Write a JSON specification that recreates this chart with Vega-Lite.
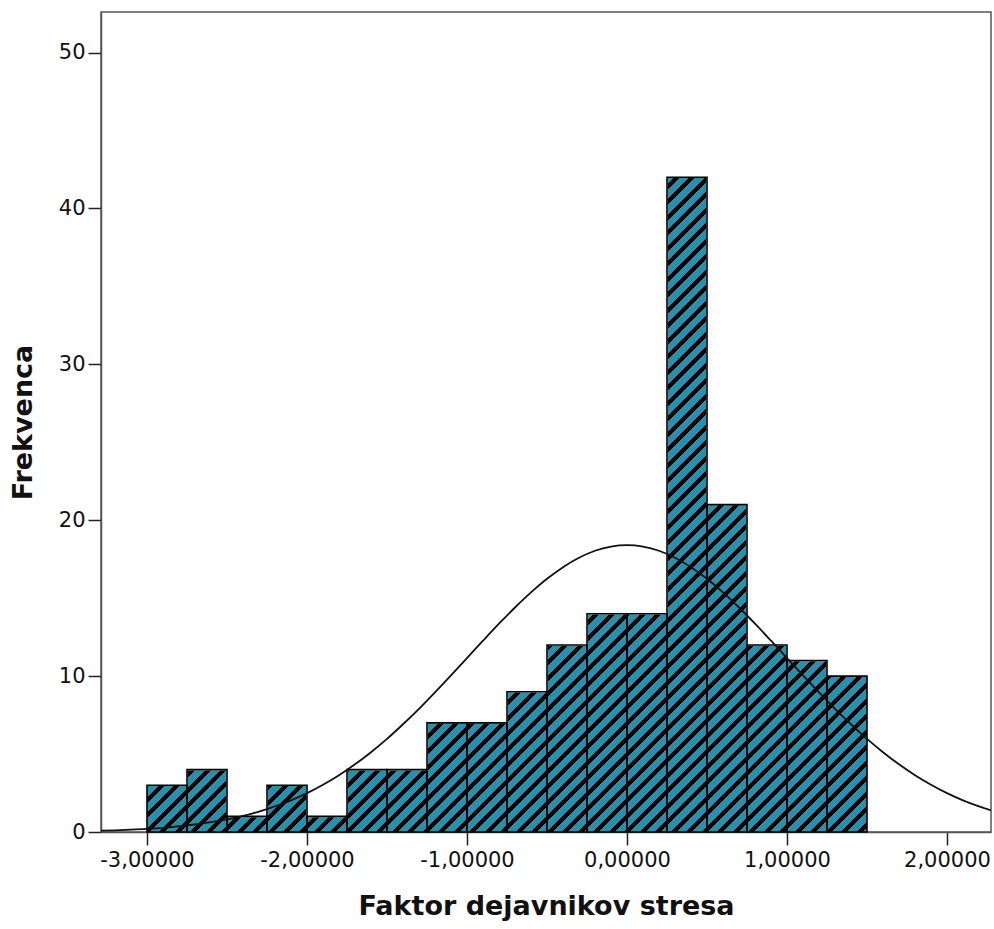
{
  "$schema": "https://vega.github.io/schema/vega-lite/v6.json",
  "width": 890,
  "height": 820,
  "autosize": "none",
  "padding": {"left": 101, "top": 12, "right": 3, "bottom": 97},
  "background": "white",
  "config": {
    "view": {"stroke": "#555555", "strokeWidth": 1.5},
    "axis": {
      "grid": false,
      "domainColor": "#555555",
      "domainWidth": 1.5,
      "tickColor": "#222222",
      "tickWidth": 1.5,
      "tickSize": 13,
      "labelFont": "DejaVu Sans",
      "labelFontSize": 21,
      "labelColor": "#111111",
      "titleFont": "DejaVu Sans",
      "titleFontSize": 27,
      "titleFontWeight": "bold",
      "titleColor": "#111111"
    }
  },
  "datasets": {
    "bars": [
      {"bin_start": -3.0, "bin_end": -2.75, "count": 3},
      {"bin_start": -2.75, "bin_end": -2.5, "count": 4},
      {"bin_start": -2.5, "bin_end": -2.25, "count": 1},
      {"bin_start": -2.25, "bin_end": -2.0, "count": 3},
      {"bin_start": -2.0, "bin_end": -1.75, "count": 1},
      {"bin_start": -1.75, "bin_end": -1.5, "count": 4},
      {"bin_start": -1.5, "bin_end": -1.25, "count": 4},
      {"bin_start": -1.25, "bin_end": -1.0, "count": 7},
      {"bin_start": -1.0, "bin_end": -0.75, "count": 7},
      {"bin_start": -0.75, "bin_end": -0.5, "count": 9},
      {"bin_start": -0.5, "bin_end": -0.25, "count": 12},
      {"bin_start": -0.25, "bin_end": 0.0, "count": 14},
      {"bin_start": 0.0, "bin_end": 0.25, "count": 14},
      {"bin_start": 0.25, "bin_end": 0.5, "count": 42},
      {"bin_start": 0.5, "bin_end": 0.75, "count": 21},
      {"bin_start": 0.75, "bin_end": 1.0, "count": 12},
      {"bin_start": 1.0, "bin_end": 1.25, "count": 11},
      {"bin_start": 1.25, "bin_end": 1.5, "count": 10}
    ],
    "curve": [
      {"x": -3.3, "y": 0.08}, {"x": -3.2, "y": 0.11}, {"x": -3.1, "y": 0.15}, {"x": -3.0, "y": 0.2},
      {"x": -2.9, "y": 0.27}, {"x": -2.8, "y": 0.37}, {"x": -2.7, "y": 0.48}, {"x": -2.6, "y": 0.63},
      {"x": -2.5, "y": 0.81}, {"x": -2.4, "y": 1.03}, {"x": -2.3, "y": 1.31}, {"x": -2.2, "y": 1.64},
      {"x": -2.1, "y": 2.03}, {"x": -2.0, "y": 2.49}, {"x": -1.9, "y": 3.03}, {"x": -1.8, "y": 3.64},
      {"x": -1.7, "y": 4.34}, {"x": -1.6, "y": 5.12}, {"x": -1.5, "y": 5.97}, {"x": -1.4, "y": 6.91},
      {"x": -1.3, "y": 7.9}, {"x": -1.2, "y": 8.96}, {"x": -1.1, "y": 10.05}, {"x": -1.0, "y": 11.16},
      {"x": -0.9, "y": 12.27}, {"x": -0.8, "y": 13.36}, {"x": -0.7, "y": 14.4}, {"x": -0.6, "y": 15.37},
      {"x": -0.5, "y": 16.24}, {"x": -0.4, "y": 16.99}, {"x": -0.3, "y": 17.59}, {"x": -0.2, "y": 18.04},
      {"x": -0.1, "y": 18.31}, {"x": 0.0, "y": 18.4}, {"x": 0.1, "y": 18.31}, {"x": 0.2, "y": 18.04},
      {"x": 0.3, "y": 17.59}, {"x": 0.4, "y": 16.99}, {"x": 0.5, "y": 16.24}, {"x": 0.6, "y": 15.37},
      {"x": 0.7, "y": 14.4}, {"x": 0.8, "y": 13.36}, {"x": 0.9, "y": 12.27}, {"x": 1.0, "y": 11.16},
      {"x": 1.1, "y": 10.05}, {"x": 1.2, "y": 8.96}, {"x": 1.3, "y": 7.9}, {"x": 1.4, "y": 6.91},
      {"x": 1.5, "y": 5.97}, {"x": 1.6, "y": 5.12}, {"x": 1.7, "y": 4.34}, {"x": 1.8, "y": 3.64},
      {"x": 1.9, "y": 3.03}, {"x": 2.0, "y": 2.49}, {"x": 2.1, "y": 2.03}, {"x": 2.2, "y": 1.64},
      {"x": 2.3, "y": 1.31}
    ]
  },
  "layer": [
    {
      "data": {"name": "bars"},
      "mark": {
        "type": "rect",
        "fill": {
          "gradient": "linear", "x1": 0, "y1": 0, "x2": 1.1783, "y2": 1.0716,
          "stops": [
{"offset":0,"color":"#000"},{"offset":0.004,"color":"#000"},{"offset":0.004,"color":"#2a8fad"},{"offset":0.01,"color":"#2a8fad"},
{"offset":0.01,"color":"#000"},{"offset":0.014,"color":"#000"},{"offset":0.014,"color":"#2a8fad"},{"offset":0.02,"color":"#2a8fad"},
{"offset":0.02,"color":"#000"},{"offset":0.024,"color":"#000"},{"offset":0.024,"color":"#2a8fad"},{"offset":0.03,"color":"#2a8fad"},
{"offset":0.03,"color":"#000"},{"offset":0.034,"color":"#000"},{"offset":0.034,"color":"#2a8fad"},{"offset":0.04,"color":"#2a8fad"},
{"offset":0.04,"color":"#000"},{"offset":0.044,"color":"#000"},{"offset":0.044,"color":"#2a8fad"},{"offset":0.05,"color":"#2a8fad"},
{"offset":0.05,"color":"#000"},{"offset":0.054,"color":"#000"},{"offset":0.054,"color":"#2a8fad"},{"offset":0.06,"color":"#2a8fad"},
{"offset":0.06,"color":"#000"},{"offset":0.064,"color":"#000"},{"offset":0.064,"color":"#2a8fad"},{"offset":0.07,"color":"#2a8fad"},
{"offset":0.07,"color":"#000"},{"offset":0.074,"color":"#000"},{"offset":0.074,"color":"#2a8fad"},{"offset":0.08,"color":"#2a8fad"},
{"offset":0.08,"color":"#000"},{"offset":0.084,"color":"#000"},{"offset":0.084,"color":"#2a8fad"},{"offset":0.09,"color":"#2a8fad"},
{"offset":0.09,"color":"#000"},{"offset":0.094,"color":"#000"},{"offset":0.094,"color":"#2a8fad"},{"offset":0.1,"color":"#2a8fad"},
{"offset":0.1,"color":"#000"},{"offset":0.104,"color":"#000"},{"offset":0.104,"color":"#2a8fad"},{"offset":0.11,"color":"#2a8fad"},
{"offset":0.11,"color":"#000"},{"offset":0.114,"color":"#000"},{"offset":0.114,"color":"#2a8fad"},{"offset":0.12,"color":"#2a8fad"},
{"offset":0.12,"color":"#000"},{"offset":0.124,"color":"#000"},{"offset":0.124,"color":"#2a8fad"},{"offset":0.13,"color":"#2a8fad"},
{"offset":0.13,"color":"#000"},{"offset":0.134,"color":"#000"},{"offset":0.134,"color":"#2a8fad"},{"offset":0.14,"color":"#2a8fad"},
{"offset":0.14,"color":"#000"},{"offset":0.144,"color":"#000"},{"offset":0.144,"color":"#2a8fad"},{"offset":0.15,"color":"#2a8fad"},
{"offset":0.15,"color":"#000"},{"offset":0.154,"color":"#000"},{"offset":0.154,"color":"#2a8fad"},{"offset":0.16,"color":"#2a8fad"},
{"offset":0.16,"color":"#000"},{"offset":0.164,"color":"#000"},{"offset":0.164,"color":"#2a8fad"},{"offset":0.17,"color":"#2a8fad"},
{"offset":0.17,"color":"#000"},{"offset":0.174,"color":"#000"},{"offset":0.174,"color":"#2a8fad"},{"offset":0.18,"color":"#2a8fad"},
{"offset":0.18,"color":"#000"},{"offset":0.184,"color":"#000"},{"offset":0.184,"color":"#2a8fad"},{"offset":0.19,"color":"#2a8fad"},
{"offset":0.19,"color":"#000"},{"offset":0.194,"color":"#000"},{"offset":0.194,"color":"#2a8fad"},{"offset":0.2,"color":"#2a8fad"},
{"offset":0.2,"color":"#000"},{"offset":0.204,"color":"#000"},{"offset":0.204,"color":"#2a8fad"},{"offset":0.21,"color":"#2a8fad"},
{"offset":0.21,"color":"#000"},{"offset":0.214,"color":"#000"},{"offset":0.214,"color":"#2a8fad"},{"offset":0.22,"color":"#2a8fad"},
{"offset":0.22,"color":"#000"},{"offset":0.224,"color":"#000"},{"offset":0.224,"color":"#2a8fad"},{"offset":0.23,"color":"#2a8fad"},
{"offset":0.23,"color":"#000"},{"offset":0.234,"color":"#000"},{"offset":0.234,"color":"#2a8fad"},{"offset":0.24,"color":"#2a8fad"},
{"offset":0.24,"color":"#000"},{"offset":0.244,"color":"#000"},{"offset":0.244,"color":"#2a8fad"},{"offset":0.25,"color":"#2a8fad"},
{"offset":0.25,"color":"#000"},{"offset":0.254,"color":"#000"},{"offset":0.254,"color":"#2a8fad"},{"offset":0.26,"color":"#2a8fad"},
{"offset":0.26,"color":"#000"},{"offset":0.264,"color":"#000"},{"offset":0.264,"color":"#2a8fad"},{"offset":0.27,"color":"#2a8fad"},
{"offset":0.27,"color":"#000"},{"offset":0.274,"color":"#000"},{"offset":0.274,"color":"#2a8fad"},{"offset":0.28,"color":"#2a8fad"},
{"offset":0.28,"color":"#000"},{"offset":0.284,"color":"#000"},{"offset":0.284,"color":"#2a8fad"},{"offset":0.29,"color":"#2a8fad"},
{"offset":0.29,"color":"#000"},{"offset":0.294,"color":"#000"},{"offset":0.294,"color":"#2a8fad"},{"offset":0.3,"color":"#2a8fad"},
{"offset":0.3,"color":"#000"},{"offset":0.304,"color":"#000"},{"offset":0.304,"color":"#2a8fad"},{"offset":0.31,"color":"#2a8fad"},
{"offset":0.31,"color":"#000"},{"offset":0.314,"color":"#000"},{"offset":0.314,"color":"#2a8fad"},{"offset":0.32,"color":"#2a8fad"},
{"offset":0.32,"color":"#000"},{"offset":0.324,"color":"#000"},{"offset":0.324,"color":"#2a8fad"},{"offset":0.33,"color":"#2a8fad"},
{"offset":0.33,"color":"#000"},{"offset":0.334,"color":"#000"},{"offset":0.334,"color":"#2a8fad"},{"offset":0.34,"color":"#2a8fad"},
{"offset":0.34,"color":"#000"},{"offset":0.344,"color":"#000"},{"offset":0.344,"color":"#2a8fad"},{"offset":0.35,"color":"#2a8fad"},
{"offset":0.35,"color":"#000"},{"offset":0.354,"color":"#000"},{"offset":0.354,"color":"#2a8fad"},{"offset":0.36,"color":"#2a8fad"},
{"offset":0.36,"color":"#000"},{"offset":0.364,"color":"#000"},{"offset":0.364,"color":"#2a8fad"},{"offset":0.37,"color":"#2a8fad"},
{"offset":0.37,"color":"#000"},{"offset":0.374,"color":"#000"},{"offset":0.374,"color":"#2a8fad"},{"offset":0.38,"color":"#2a8fad"},
{"offset":0.38,"color":"#000"},{"offset":0.384,"color":"#000"},{"offset":0.384,"color":"#2a8fad"},{"offset":0.39,"color":"#2a8fad"},
{"offset":0.39,"color":"#000"},{"offset":0.394,"color":"#000"},{"offset":0.394,"color":"#2a8fad"},{"offset":0.4,"color":"#2a8fad"},
{"offset":0.4,"color":"#000"},{"offset":0.404,"color":"#000"},{"offset":0.404,"color":"#2a8fad"},{"offset":0.41,"color":"#2a8fad"},
{"offset":0.41,"color":"#000"},{"offset":0.414,"color":"#000"},{"offset":0.414,"color":"#2a8fad"},{"offset":0.42,"color":"#2a8fad"},
{"offset":0.42,"color":"#000"},{"offset":0.424,"color":"#000"},{"offset":0.424,"color":"#2a8fad"},{"offset":0.43,"color":"#2a8fad"},
{"offset":0.43,"color":"#000"},{"offset":0.434,"color":"#000"},{"offset":0.434,"color":"#2a8fad"},{"offset":0.44,"color":"#2a8fad"},
{"offset":0.44,"color":"#000"},{"offset":0.444,"color":"#000"},{"offset":0.444,"color":"#2a8fad"},{"offset":0.45,"color":"#2a8fad"},
{"offset":0.45,"color":"#000"},{"offset":0.454,"color":"#000"},{"offset":0.454,"color":"#2a8fad"},{"offset":0.46,"color":"#2a8fad"},
{"offset":0.46,"color":"#000"},{"offset":0.464,"color":"#000"},{"offset":0.464,"color":"#2a8fad"},{"offset":0.47,"color":"#2a8fad"},
{"offset":0.47,"color":"#000"},{"offset":0.474,"color":"#000"},{"offset":0.474,"color":"#2a8fad"},{"offset":0.48,"color":"#2a8fad"},
{"offset":0.48,"color":"#000"},{"offset":0.484,"color":"#000"},{"offset":0.484,"color":"#2a8fad"},{"offset":0.49,"color":"#2a8fad"},
{"offset":0.49,"color":"#000"},{"offset":0.494,"color":"#000"},{"offset":0.494,"color":"#2a8fad"},{"offset":0.5,"color":"#2a8fad"},
{"offset":0.5,"color":"#000"},{"offset":0.504,"color":"#000"},{"offset":0.504,"color":"#2a8fad"},{"offset":0.51,"color":"#2a8fad"},
{"offset":0.51,"color":"#000"},{"offset":0.514,"color":"#000"},{"offset":0.514,"color":"#2a8fad"},{"offset":0.52,"color":"#2a8fad"},
{"offset":0.52,"color":"#000"},{"offset":0.524,"color":"#000"},{"offset":0.524,"color":"#2a8fad"},{"offset":0.53,"color":"#2a8fad"},
{"offset":0.53,"color":"#000"},{"offset":0.534,"color":"#000"},{"offset":0.534,"color":"#2a8fad"},{"offset":0.54,"color":"#2a8fad"},
{"offset":0.54,"color":"#000"},{"offset":0.544,"color":"#000"},{"offset":0.544,"color":"#2a8fad"},{"offset":0.55,"color":"#2a8fad"},
{"offset":0.55,"color":"#000"},{"offset":0.554,"color":"#000"},{"offset":0.554,"color":"#2a8fad"},{"offset":0.56,"color":"#2a8fad"},
{"offset":0.56,"color":"#000"},{"offset":0.564,"color":"#000"},{"offset":0.564,"color":"#2a8fad"},{"offset":0.57,"color":"#2a8fad"},
{"offset":0.57,"color":"#000"},{"offset":0.574,"color":"#000"},{"offset":0.574,"color":"#2a8fad"},{"offset":0.58,"color":"#2a8fad"},
{"offset":0.58,"color":"#000"},{"offset":0.584,"color":"#000"},{"offset":0.584,"color":"#2a8fad"},{"offset":0.59,"color":"#2a8fad"},
{"offset":0.59,"color":"#000"},{"offset":0.594,"color":"#000"},{"offset":0.594,"color":"#2a8fad"},{"offset":0.6,"color":"#2a8fad"},
{"offset":0.6,"color":"#000"},{"offset":0.604,"color":"#000"},{"offset":0.604,"color":"#2a8fad"},{"offset":0.61,"color":"#2a8fad"},
{"offset":0.61,"color":"#000"},{"offset":0.614,"color":"#000"},{"offset":0.614,"color":"#2a8fad"},{"offset":0.62,"color":"#2a8fad"},
{"offset":0.62,"color":"#000"},{"offset":0.624,"color":"#000"},{"offset":0.624,"color":"#2a8fad"},{"offset":0.63,"color":"#2a8fad"},
{"offset":0.63,"color":"#000"},{"offset":0.634,"color":"#000"},{"offset":0.634,"color":"#2a8fad"},{"offset":0.64,"color":"#2a8fad"},
{"offset":0.64,"color":"#000"},{"offset":0.644,"color":"#000"},{"offset":0.644,"color":"#2a8fad"},{"offset":0.65,"color":"#2a8fad"},
{"offset":0.65,"color":"#000"},{"offset":0.654,"color":"#000"},{"offset":0.654,"color":"#2a8fad"},{"offset":0.66,"color":"#2a8fad"},
{"offset":0.66,"color":"#000"},{"offset":0.664,"color":"#000"},{"offset":0.664,"color":"#2a8fad"},{"offset":0.67,"color":"#2a8fad"},
{"offset":0.67,"color":"#000"},{"offset":0.674,"color":"#000"},{"offset":0.674,"color":"#2a8fad"},{"offset":0.68,"color":"#2a8fad"},
{"offset":0.68,"color":"#000"},{"offset":0.684,"color":"#000"},{"offset":0.684,"color":"#2a8fad"},{"offset":0.69,"color":"#2a8fad"},
{"offset":0.69,"color":"#000"},{"offset":0.694,"color":"#000"},{"offset":0.694,"color":"#2a8fad"},{"offset":0.7,"color":"#2a8fad"},
{"offset":0.7,"color":"#000"},{"offset":0.704,"color":"#000"},{"offset":0.704,"color":"#2a8fad"},{"offset":0.71,"color":"#2a8fad"},
{"offset":0.71,"color":"#000"},{"offset":0.714,"color":"#000"},{"offset":0.714,"color":"#2a8fad"},{"offset":0.72,"color":"#2a8fad"},
{"offset":0.72,"color":"#000"},{"offset":0.724,"color":"#000"},{"offset":0.724,"color":"#2a8fad"},{"offset":0.73,"color":"#2a8fad"},
{"offset":0.73,"color":"#000"},{"offset":0.734,"color":"#000"},{"offset":0.734,"color":"#2a8fad"},{"offset":0.74,"color":"#2a8fad"},
{"offset":0.74,"color":"#000"},{"offset":0.744,"color":"#000"},{"offset":0.744,"color":"#2a8fad"},{"offset":0.75,"color":"#2a8fad"},
{"offset":0.75,"color":"#000"},{"offset":0.754,"color":"#000"},{"offset":0.754,"color":"#2a8fad"},{"offset":0.76,"color":"#2a8fad"},
{"offset":0.76,"color":"#000"},{"offset":0.764,"color":"#000"},{"offset":0.764,"color":"#2a8fad"},{"offset":0.77,"color":"#2a8fad"},
{"offset":0.77,"color":"#000"},{"offset":0.774,"color":"#000"},{"offset":0.774,"color":"#2a8fad"},{"offset":0.78,"color":"#2a8fad"},
{"offset":0.78,"color":"#000"},{"offset":0.784,"color":"#000"},{"offset":0.784,"color":"#2a8fad"},{"offset":0.79,"color":"#2a8fad"},
{"offset":0.79,"color":"#000"},{"offset":0.794,"color":"#000"},{"offset":0.794,"color":"#2a8fad"},{"offset":0.8,"color":"#2a8fad"},
{"offset":0.8,"color":"#000"},{"offset":0.804,"color":"#000"},{"offset":0.804,"color":"#2a8fad"},{"offset":0.81,"color":"#2a8fad"},
{"offset":0.81,"color":"#000"},{"offset":0.814,"color":"#000"},{"offset":0.814,"color":"#2a8fad"},{"offset":0.82,"color":"#2a8fad"},
{"offset":0.82,"color":"#000"},{"offset":0.824,"color":"#000"},{"offset":0.824,"color":"#2a8fad"},{"offset":0.83,"color":"#2a8fad"},
{"offset":0.83,"color":"#000"},{"offset":0.834,"color":"#000"},{"offset":0.834,"color":"#2a8fad"},{"offset":0.84,"color":"#2a8fad"},
{"offset":0.84,"color":"#000"},{"offset":0.844,"color":"#000"},{"offset":0.844,"color":"#2a8fad"},{"offset":0.85,"color":"#2a8fad"},
{"offset":0.85,"color":"#000"},{"offset":0.854,"color":"#000"},{"offset":0.854,"color":"#2a8fad"},{"offset":0.86,"color":"#2a8fad"},
{"offset":0.86,"color":"#000"},{"offset":0.864,"color":"#000"},{"offset":0.864,"color":"#2a8fad"},{"offset":0.87,"color":"#2a8fad"},
{"offset":0.87,"color":"#000"},{"offset":0.874,"color":"#000"},{"offset":0.874,"color":"#2a8fad"},{"offset":0.88,"color":"#2a8fad"},
{"offset":0.88,"color":"#000"},{"offset":0.884,"color":"#000"},{"offset":0.884,"color":"#2a8fad"},{"offset":0.89,"color":"#2a8fad"},
{"offset":0.89,"color":"#000"},{"offset":0.894,"color":"#000"},{"offset":0.894,"color":"#2a8fad"},{"offset":0.9,"color":"#2a8fad"},
{"offset":0.9,"color":"#000"},{"offset":0.904,"color":"#000"},{"offset":0.904,"color":"#2a8fad"},{"offset":1,"color":"#2a8fad"}
          ]
        }
      },
      "encoding": {
        "x": {
          "aggregate": "min", "field": "bin_start", "type": "quantitative",
          "scale": {"domain": [-3.2875, 2.275], "nice": false, "zero": false},
          "axis": {
            "title": "Faktor dejavnikov stresa",
            "values": [-3, -2, -1, 0, 1, 2],
            "labelExpr": "datum.value < 0 ? '-' + replace(format(-datum.value, '.5f'), '.', ',') : replace(format(datum.value, '.5f'), '.', ',')",
            "labelPadding": 4,
            "titlePadding": 23
          }
        },
        "x2": {"aggregate": "max", "field": "bin_end"},
        "y": {
          "aggregate": "max", "field": "count", "type": "quantitative",
          "scale": {"domain": [0, 52.6], "nice": false},
          "axis": {
            "title": "Frekvenca",
            "values": [0, 10, 20, 30, 40, 50],
            "format": "d",
            "labelPadding": 3,
            "titlePadding": 21
          }
        },
        "y2": {"datum": 0}
      }
    },
    {
      "data": {"name": "bars"},
      "transform": [{"joinaggregate": [{"op": "max", "field": "count", "as": "maxcount"}]}],
      "mark": {"type": "rect", "fill": "white", "stroke": "white", "strokeWidth": 1.5},
      "encoding": {
        "x": {"field": "bin_start", "type": "quantitative"},
        "x2": {"field": "bin_end"},
        "y": {"field": "count", "type": "quantitative"},
        "y2": {"field": "maxcount"}
      }
    },
    {
      "data": {"name": "bars"},
      "mark": {"type": "rect", "fill": "transparent", "stroke": "#000000", "strokeWidth": 1.6},
      "encoding": {
        "x": {"field": "bin_start", "type": "quantitative"},
        "x2": {"field": "bin_end"},
        "y": {"field": "count", "type": "quantitative"},
        "y2": {"datum": 0}
      }
    },
    {
      "data": {"name": "curve"},
      "mark": {"type": "line", "color": "#111111", "strokeWidth": 1.8, "clip": true, "interpolate": "monotone"},
      "encoding": {
        "x": {"field": "x", "type": "quantitative"},
        "y": {"field": "y", "type": "quantitative"}
      }
    }
  ]
}
